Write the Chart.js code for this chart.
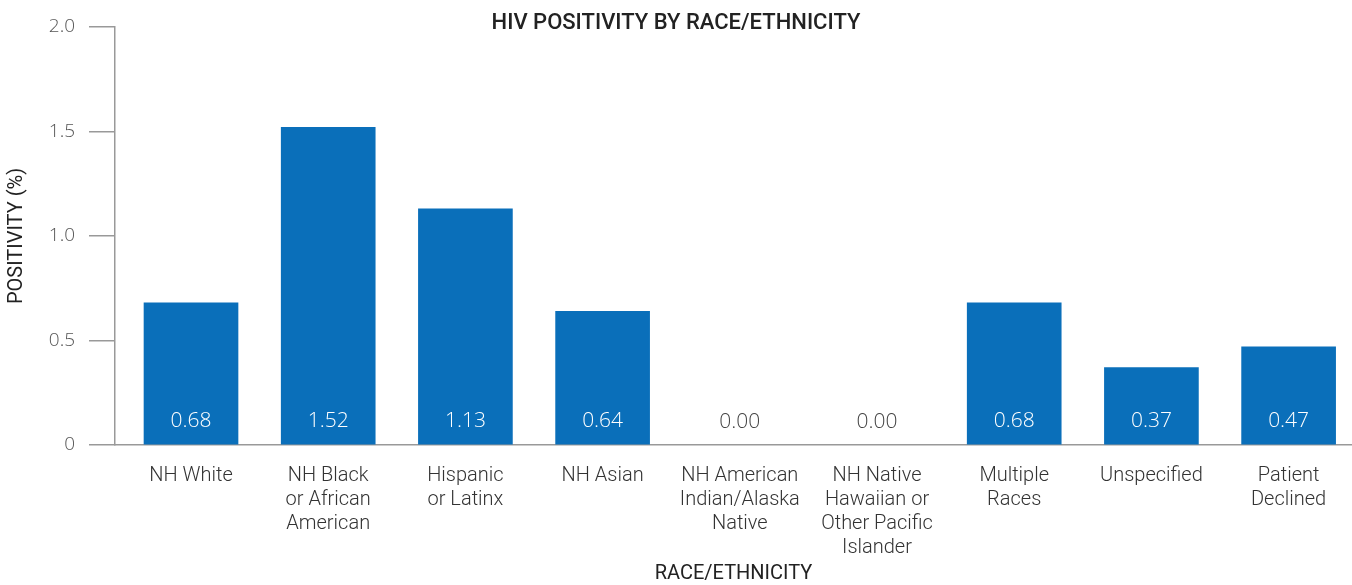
<!DOCTYPE html>
<html>
<head>
<meta charset="utf-8">
<script src="https://cdn.jsdelivr.net/npm/chart.js@4.4.0/dist/chart.umd.min.js"></script>
<style>
  body { margin: 0; background: #fff; }
</style>
</head>
<body>
<canvas id="grafico" width="1352" height="585"></canvas>
<script>
var categorias = [
  ['NH White'],
  ['NH Black', 'or African', 'American'],
  ['Hispanic', 'or Latinx'],
  ['NH Asian'],
  ['NH American', 'Indian/Alaska', 'Native'],
  ['NH Native', 'Hawaiian or', 'Other Pacific', 'Islander'],
  ['Multiple', 'Races'],
  ['Unspecified'],
  ['Patient', 'Declined']
];
var positividad = [0.68, 1.52, 1.13, 0.64, 0.00, 0.00, 0.68, 0.37, 0.47];
var ticksY = [0, 0.5, 1.0, 1.5, 2.0];

var puntos = positividad.map(function (v, i) { return { x: i, y: v }; });

// etiquetas de valor dentro de cada barra, abajo
var etiquetasBarras = {
  id: 'etiquetasBarras',
  afterDatasetsDraw: function (chart) {
    var ctx = chart.ctx;
    var meta = chart.getDatasetMeta(0);
    ctx.save();
    ctx.font = '300 21px "Open Sans"';
    ctx.textAlign = 'center';
    ctx.textBaseline = 'middle';
    meta.data.forEach(function (bar, i) {
      var v = positividad[i];
      ctx.fillStyle = v > 0 ? '#ffffff' : '#444444';
      ctx.fillText(v.toFixed(2), bar.x, bar.base - 23);
    });
    ctx.restore();
  }
};

new Chart(document.getElementById('grafico'), {
  type: 'bar',
  plugins: [etiquetasBarras],
  data: {
    datasets: [{
      label: 'Positivity',
      data: puntos,
      backgroundColor: positividad.map(function (v) { return v > 0 ? '#0a6fba' : 'rgba(0,0,0,0)'; }),
      barThickness: 94
    }]
  },
  options: {
    responsive: false,
    animation: false,
    layout: { padding: 0 },
    plugins: {
      legend: { display: false },
      tooltip: { enabled: false },
      title: {
        display: true,
        text: 'HIV POSITIVITY BY RACE/ETHNICITY',
        color: '#222',
        font: { family: 'Roboto', size: 22, weight: '500', lineHeight: 1 },
        padding: { top: 12, bottom: -7 }
      }
    },
    scales: {
      x: {
        type: 'linear',
        offset: false,
        min: -0.554,
        max: 8.462,
        grid: { display: false },
        border: { display: true, color: '#999', width: 1.5 },
        afterBuildTicks: function (scale) {
          scale.ticks = categorias.map(function (c, i) { return { value: i }; });
        },
        afterFit: function (scale) { scale.height = 140; },
        ticks: {
          autoSkip: false,
          maxRotation: 0,
          padding: 11,
          color: '#333',
          font: { family: 'Roboto', size: 20, weight: '300', lineHeight: 1.2 },
          callback: function (v) { return categorias[v]; }
        },
        title: {
          display: true,
          text: 'RACE/ETHNICITY',
          color: '#222',
          font: { family: 'Roboto', size: 20 },
          padding: { top: 0, bottom: -1 }
        }
      },
      y: {
        min: 0,
        max: 2,
        afterBuildTicks: function (scale) {
          scale.ticks = ticksY.map(function (v) { return { value: v }; });
        },
        afterFit: function (scale) { scale.width = 115; },
        grid: { drawOnChartArea: false, tickLength: 26, color: '#999', lineWidth: 1.5 },
        border: { color: '#999', width: 1.5 },
        ticks: {
          padding: 14,
          color: '#555',
          font: { family: 'Open Sans', size: 19, weight: '300' },
          callback: function (v) { return v === 0 ? '0' : v.toFixed(1); }
        },
        title: {
          display: true,
          text: 'POSITIVITY (%)',
          color: '#222',
          font: { family: 'Roboto', size: 20 },
          padding: { top: 5, bottom: 0 }
        }
      }
    }
  }
});
</script>
</body>
</html>
